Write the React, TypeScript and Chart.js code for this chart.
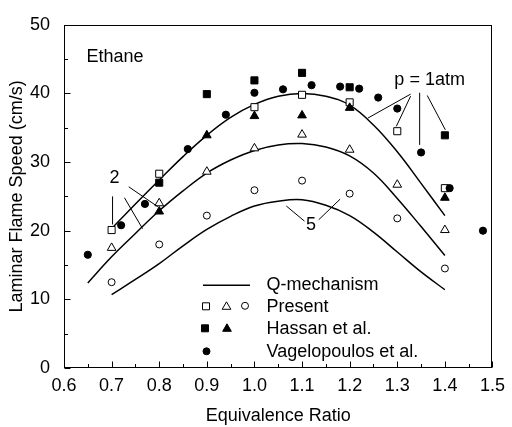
import React, { useEffect, useRef } from "react";
import { Chart, registerables } from "chart.js";
Chart.register(...registerables);

const FONT = "'Liberation Sans', Arial, Helvetica, sans-serif";

// Q-mechanism model curves
const phiQ1 = [0.7, 0.75, 0.8, 0.85, 0.9, 0.95, 1.0, 1.05, 1.1, 1.15, 1.2, 1.25, 1.3, 1.35, 1.4];
const q1atm = [20.3, 23.9, 27.4, 30.8, 33.9, 36.5, 38.4, 39.6, 40.0, 39.6, 38.3, 35.4, 31.5, 26.9, 22.2];
const phiQ2 = [0.65, 0.7, 0.75, 0.8, 0.85, 0.9, 0.95, 1.0, 1.05, 1.1, 1.15, 1.2, 1.25, 1.3, 1.35, 1.4];
const q2atm = [12.4, 16.2, 19.6, 22.9, 25.8, 28.4, 30.3, 31.7, 32.5, 32.7, 32.2, 30.9, 28.4, 24.7, 20.6, 16.4];
const phiQ5 = [0.7, 0.75, 0.8, 0.85, 0.9, 0.95, 1.0, 1.05, 1.1, 1.15, 1.2, 1.25, 1.3, 1.35, 1.4];
const q5atm = [10.7, 12.9, 15.2, 17.8, 20.2, 22.1, 23.6, 24.3, 24.5, 23.7, 22.2, 19.8, 16.9, 14.0, 11.4];

// Present measurements
const presentPhi1 = [0.7, 0.8, 1.0, 1.1, 1.2, 1.3, 1.4];
const present1atm = [20.1, 28.3, 38.0, 39.8, 38.7, 34.5, 26.2];
const presentPhi2 = [0.7, 0.8, 0.9, 1.0, 1.1, 1.2, 1.3, 1.4];
const present2atm = [17.5, 24.0, 28.6, 32.0, 34.0, 31.8, 26.7, 20.1];
const presentPhi5 = [0.7, 0.8, 0.9, 1.0, 1.1, 1.2, 1.3, 1.4];
const present5atm = [12.5, 18.0, 22.2, 25.9, 27.3, 25.4, 21.8, 14.5];

// Hassan et al.
const hassanPhi1 = [0.8, 0.9, 1.0, 1.1, 1.2, 1.4];
const hassan1atm = [27.0, 39.9, 41.9, 43.0, 40.9, 33.9];
const hassanPhi2 = [0.8, 0.9, 1.0, 1.1, 1.2, 1.4];
const hassan2atm = [22.8, 33.9, 36.7, 36.8, 37.9, 24.8];

// Vagelopoulos et al.
const vagPhi = [0.65, 0.72, 0.77, 0.86, 0.94, 1.0, 1.06, 1.12, 1.18, 1.22, 1.26, 1.3, 1.35, 1.41, 1.48];
const vag1atm = [16.5, 20.8, 23.9, 31.9, 36.9, 40.1, 40.6, 41.2, 41.0, 40.7, 39.4, 37.8, 31.4, 26.2, 20.0];

// Axis ticks
const xMajorTicks = [0.6, 0.7, 0.8, 0.9, 1.0, 1.1, 1.2, 1.3, 1.4, 1.5];
const xMinorTicks = [0.65, 0.75, 0.85, 0.95, 1.05, 1.15, 1.25, 1.35, 1.45];
const yMajorTicks = [0, 10, 20, 30, 40, 50];
const yMinorTicks = [5, 15, 25, 35, 45];

const pts = (xs: number[], ys: number[]) => xs.map((x, i) => ({ x, y: ys[i] }));

const drawMarker = (ctx: CanvasRenderingContext2D, kind: string, x: number, y: number, filled: boolean) => {
  ctx.beginPath();
  if (kind === "rect") {
    const s = 3.5;
    ctx.rect(x - s, y - s, 2 * s, 2 * s);
  } else if (kind === "triangle") {
    const r = 5;
    ctx.moveTo(x, y - r);
    ctx.lineTo(x + r * 0.866, y + r / 2);
    ctx.lineTo(x - r * 0.866, y + r / 2);
    ctx.closePath();
  } else {
    ctx.arc(x, y, 3.5, 0, Math.PI * 2);
  }
  ctx.fillStyle = filled ? "#000" : "#fff";
  ctx.fill();
  ctx.lineWidth = 1;
  ctx.strokeStyle = "#000";
  ctx.stroke();
};

const annotPlugin = {
  id: "annot",
  afterDatasetsDraw(chart: any) {
    const { ctx, chartArea: a, scales } = chart;
    const xs = scales.x;
    const ys = scales.y;
    const X = (v: number) => xs.getPixelForValue(v);
    const Y = (v: number) => ys.getPixelForValue(v);
    ctx.save();
    ctx.strokeStyle = "#000";
    ctx.fillStyle = "#000";
    ctx.lineWidth = 1;
    // frame
    const L = Math.round(a.left) + 0.5;
    const R = Math.round(a.right) - 0.5;
    const T = Math.round(a.top) + 0.5;
    const B = Math.round(a.bottom) - 0.5;
    ctx.strokeRect(L, T, R - L, B - T);
    // ticks (inward)
    ctx.beginPath();
    xMajorTicks.forEach((v) => {
      const px = Math.round(X(v)) + 0.5;
      ctx.moveTo(px, B);
      ctx.lineTo(px, B - 6);
    });
    xMinorTicks.forEach((v) => {
      const px = Math.round(X(v)) + 0.5;
      ctx.moveTo(px, B);
      ctx.lineTo(px, B - 3.5);
    });
    yMajorTicks.forEach((v) => {
      const py = Math.round(Y(v)) + 0.5;
      ctx.moveTo(L, py);
      ctx.lineTo(L + 6, py);
    });
    yMinorTicks.forEach((v) => {
      const py = Math.round(Y(v)) + 0.5;
      ctx.moveTo(L, py);
      ctx.lineTo(L + 3.5, py);
    });
    ctx.stroke();

    // leader lines
    const seg = (x1: number, y1: number, x2: number, y2: number) => {
      ctx.moveTo(X(x1), Y(y1));
      ctx.lineTo(X(x2), Y(y2));
    };
    ctx.beginPath();
    // "2"
    seg(0.702, 25.0, 0.702, 20.9);
    seg(0.727, 24.8, 0.765, 20.3);
    seg(0.736, 26.4, 0.797, 23.5);
    // "5"
    seg(1.067, 23.6, 1.105, 21.4);
    seg(1.135, 21.6, 1.18, 24.6);
    // "p = 1atm"
    seg(1.328, 39.9, 1.238, 36.4);
    seg(1.328, 39.6, 1.298, 35.2);
    seg(1.347, 40.1, 1.347, 32.5);
    seg(1.363, 39.7, 1.401, 34.7);
    ctx.stroke();

    // texts
    ctx.font = `18px ${FONT}`;
    ctx.textBaseline = "middle";
    ctx.textAlign = "left";
    ctx.fillText("Ethane", X(0.647), Y(45.3));
    ctx.textAlign = "center";
    ctx.fillText("2", X(0.706), Y(27.65));
    ctx.fillText("5", X(1.119), Y(20.9));
    ctx.fillText("p = 1atm", X(1.368), Y(42.0));

    // legend
    const lx = a.left;
    const ty = a.top;
    ctx.beginPath();
    ctx.moveTo(lx + 139, ty + 260.5);
    ctx.lineTo(lx + 186, ty + 260.5);
    ctx.lineWidth = 1.5;
    ctx.stroke();
    drawMarker(ctx, "rect", lx + 142, ty + 281.5, false);
    drawMarker(ctx, "triangle", lx + 162.5, ty + 282, false);
    drawMarker(ctx, "circle", lx + 181, ty + 281, false);
    drawMarker(ctx, "rect", lx + 141, ty + 303.5, true);
    drawMarker(ctx, "triangle", lx + 163, ty + 304, true);
    drawMarker(ctx, "circle", lx + 142.5, ty + 326.5, true);
    ctx.fillStyle = "#000";
    ctx.textAlign = "left";
    ctx.font = `18px ${FONT}`;
    ctx.fillText("Q-mechanism", lx + 202.5, ty + 260.5);
    ctx.fillText("Present", lx + 202.5, ty + 282);
    ctx.fillText("Hassan et al.", lx + 202.5, ty + 304);
    ctx.fillText("Vagelopoulos et al.", lx + 202.5, ty + 327);
    ctx.restore();
  },
};

const lineDs = (xs: number[], ys: number[]) => ({
  type: "line" as const,
  data: pts(xs, ys),
  showLine: true,
  borderColor: "#000",
  borderWidth: 1.5,
  pointRadius: 0,
  fill: false,
  tension: 0.4,
});

const markerDs = (xs: number[], ys: number[], style: string, filled: boolean, r: number) => ({
  type: "scatter" as const,
  data: pts(xs, ys),
  showLine: false,
  pointStyle: style,
  pointRadius: r,
  pointBackgroundColor: filled ? "#000" : "#fff",
  pointBorderColor: "#000",
  pointBorderWidth: 1,
});

export default function App() {
  const ref = useRef<HTMLCanvasElement>(null);
  useEffect(() => {
    const chart = new Chart(ref.current as HTMLCanvasElement, {
      type: "scatter",
      data: {
        datasets: [
          markerDs(vagPhi, vag1atm, "circle", true, 3.6),
          markerDs(hassanPhi1, hassan1atm, "rect", true, 5),
          markerDs(hassanPhi2, hassan2atm, "triangle", true, 5),
          markerDs(presentPhi1, present1atm, "rect", false, 5),
          markerDs(presentPhi2, present2atm, "triangle", false, 5),
          markerDs(presentPhi5, present5atm, "circle", false, 3.5),
          lineDs(phiQ1, q1atm),
          lineDs(phiQ2, q2atm),
          lineDs(phiQ5, q5atm),
        ] as any,
      },
      options: {
        responsive: false,
        animation: false,
        devicePixelRatio: 1,
        layout: { padding: { top: 19, right: 14, left: 0, bottom: 0 } },
        plugins: { legend: { display: false }, tooltip: { enabled: false } },
        scales: {
          x: {
            type: "linear",
            min: 0.6,
            max: 1.5,
            afterFit: (s: any) => {
              s.height = 59;
            },
            grid: { display: false, drawTicks: false },
            border: { display: false },
            ticks: {
              stepSize: 0.1,
              autoSkip: false,
              maxRotation: 0,
              padding: 7,
              color: "#000",
              font: { family: FONT, size: 18 },
              callback: (v: any) => Number(v).toFixed(1),
            },
            title: {
              display: true,
              text: "Equivalence Ratio",
              color: "#000",
              font: { family: FONT, size: 18, lineHeight: 1.2 },
              padding: { top: 0, bottom: 0 },
            },
          },
          y: {
            type: "linear",
            min: 0,
            max: 50,
            afterFit: (s: any) => {
              s.width = 64;
            },
            grid: { display: false, drawTicks: false },
            border: { display: false },
            ticks: {
              stepSize: 10,
              padding: 14,
              color: "#000",
              font: { family: FONT, size: 18 },
            },
            title: {
              display: true,
              text: "Laminar Flame Speed (cm/s)",
              color: "#000",
              font: { family: FONT, size: 18, lineHeight: 1.2 },
              padding: { top: 6, bottom: 0 },
            },
          },
        },
      },
      plugins: [annotPlugin],
    } as any);
    return () => chart.destroy();
  }, []);
  return (
    <div style={{ position: "fixed", left: 0, top: 0, width: 512, height: 427, background: "#fff" }}>
      <canvas ref={ref} width={512} height={427} style={{ display: "block", width: 512, height: 427 }} />
    </div>
  );
}
